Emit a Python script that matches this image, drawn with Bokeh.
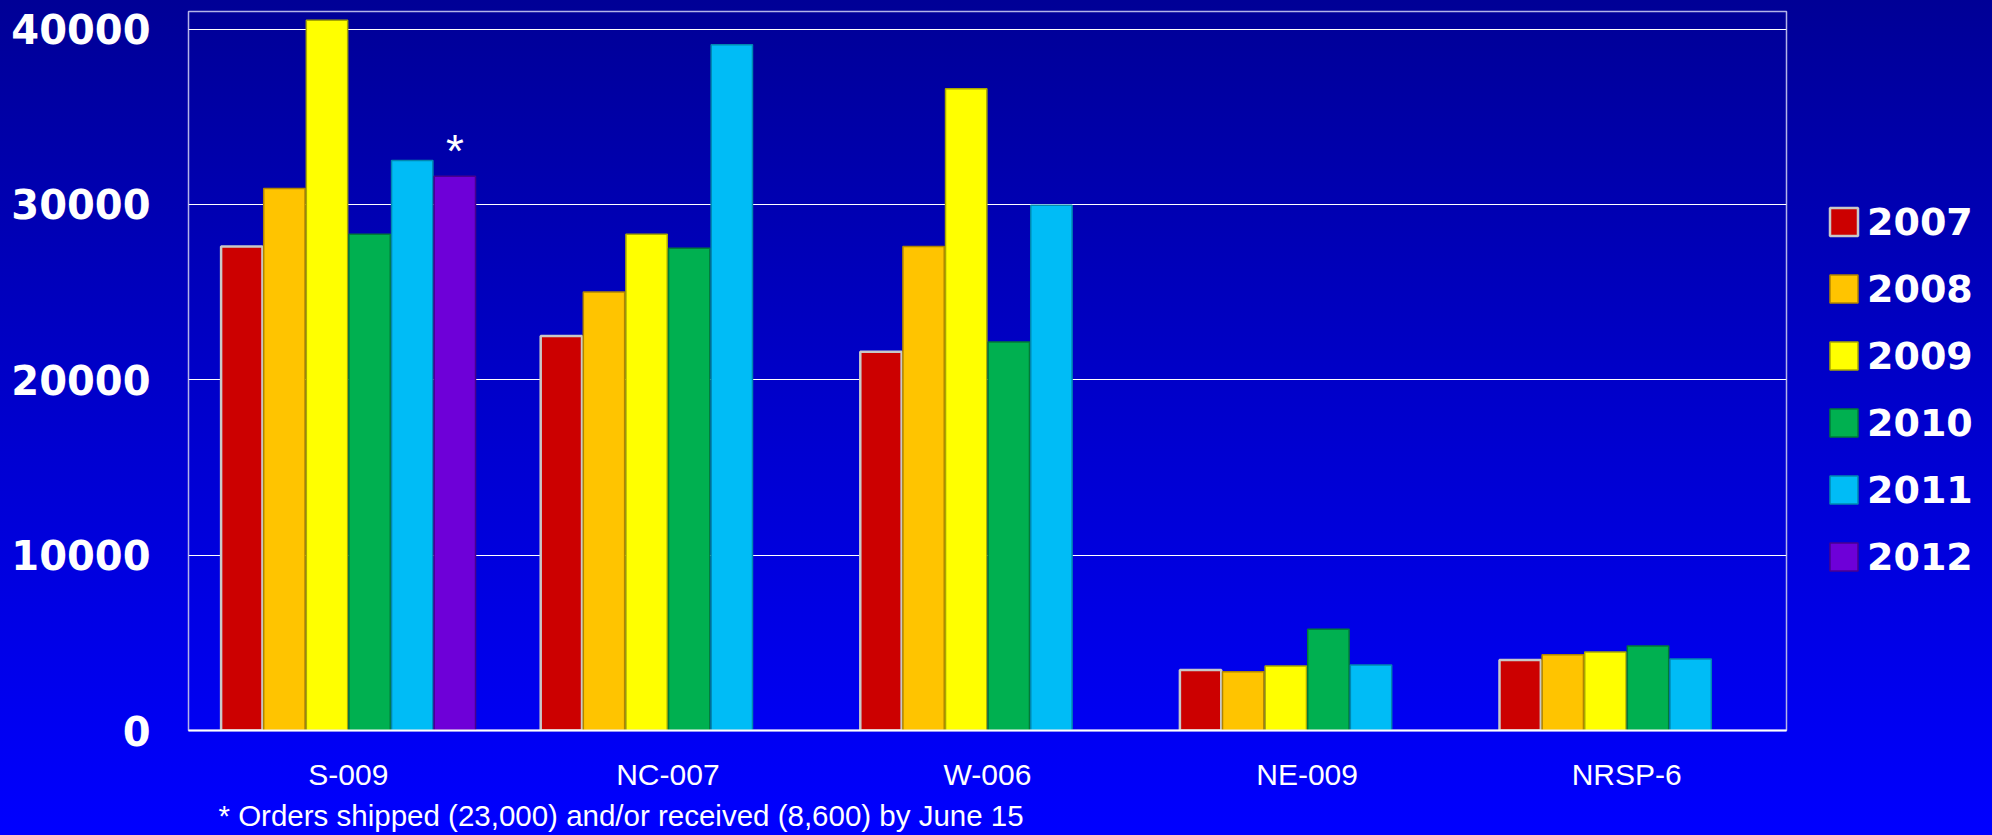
from bokeh.plotting import figure
from bokeh.layouts import row
from bokeh.models import (ColumnDataSource, FactorRange, Range1d, FixedTicker,
                          Legend, LegendItem, Title)
from bokeh.transform import dodge
from bokeh.core.properties import value
from bokeh.embed import file_html
from bokeh.resources import INLINE

# ---------------- data ----------------
categories = ["S-009", "NC-007", "W-006", "NE-009", "NRSP-6"]
years = ["2007", "2008", "2009", "2010", "2011", "2012"]
v2007 = [27600, 22500, 21600, 3450, 4020]
v2008 = [30900, 25000, 27600, 3350, 4320]
v2009 = [40500, 28300, 36600, 3680, 4480]
v2010 = [28300, 27500, 22150, 5780, 4820]
v2011 = [32500, 39100, 29950, 3740, 4080]
cat2012 = ["S-009"]
v2012 = [31600]
y_ticks = [0, 10000, 20000, 30000, 40000]
note_mark = "*"
footnote = "* Orders shipped (23,000) and/or received (8,600) by June 15"

# ---------------- style ----------------
fills = ["#CC0000", "#FFC400", "#FFFF00", "#00B050", "#00BCF6", "#6E00D8"]
edges = ["#C8C8C8", "#B08400", "#A8A800", "#007A38", "#0088B0", "#48008E"]
edge_w = [2.5, 1.5, 1.5, 1.5, 1.5, 1.5]
bar_w = 1 / 7.5
offsets = [(i - 2.5) * bar_w for i in range(6)]
gradient = {"background": "linear-gradient(to bottom, #000096 0%, #0000C8 45%, #0000FF 100%)"}

H = 835
W_MAIN, W_LEG = 1788, 204

p = figure(x_range=FactorRange(*categories, range_padding=0),
           y_range=Range1d(0, 41000),
           width=W_MAIN, height=H, output_backend="svg", toolbar_location=None,
           min_border_left=188, min_border_right=2,
           min_border_top=11, min_border_bottom=101, styles=gradient)
p.background_fill_alpha = 0
p.border_fill_alpha = 0
p.outline_line_color = "#B4B4E8"
p.outline_line_width = 1.5

src = ColumnDataSource(dict(cat=categories, y2007=v2007, y2008=v2008, y2009=v2009,
                            y2010=v2010, y2011=v2011))
src12 = ColumnDataSource(dict(cat=cat2012, y2012=v2012))

for i, yr in enumerate(years):
    s = src12 if yr == "2012" else src
    p.vbar(x=dodge("cat", offsets[i], range=p.x_range), top="y" + yr, bottom=0,
           width=bar_w * 0.97, source=s, fill_color=fills[i],
           line_color=edges[i], line_width=edge_w[i])

# asterisk above the 2012 bar
p.text(x=dodge("cat", offsets[5], range=p.x_range), y="y2012", text=value(note_mark),
       source=src12, text_color="white", text_font=value("Liberation Sans"),
       text_font_size="46px", text_align="center", text_baseline="alphabetic",
       y_offset=-25)

# axes
p.yaxis.ticker = FixedTicker(ticks=y_ticks)
p.yaxis.axis_line_color = None
p.yaxis.major_tick_line_color = None
p.yaxis.minor_tick_line_color = None
p.yaxis.major_tick_out = 0
p.yaxis.major_label_standoff = 38
p.yaxis.major_label_text_color = "white"
p.yaxis.major_label_text_font = "DejaVu Sans"
p.yaxis.major_label_text_font_style = "bold"
p.yaxis.major_label_text_font_size = "40px"

p.xaxis.axis_line_color = "white"
p.xaxis.axis_line_width = 2
p.xaxis.major_tick_line_color = None
p.xaxis.minor_tick_line_color = None
p.xaxis.major_tick_out = 0
p.xaxis.major_label_standoff = 27
p.xaxis.major_label_text_color = "white"
p.xaxis.major_label_text_font = "Liberation Sans"
p.xaxis.major_label_text_font_size = "30px"

p.xgrid.grid_line_color = None
p.ygrid.grid_line_color = "white"
p.ygrid.grid_line_width = 1.2
p.ygrid.ticker = FixedTicker(ticks=y_ticks)

# footnote (below the category axis)
p.add_layout(Title(text=footnote, align="left", offset=30, standoff=7,
                   text_color="white", text_font="Liberation Sans",
                   text_font_style="normal", text_font_size="29.5px"), "below")

# legend panel at the right (swatch renderers carry no drawable bar)
q = figure(width=W_LEG, height=H, output_backend="svg", toolbar_location=None,
           x_range=Range1d(0, 1), y_range=Range1d(0, 1),
           x_axis_location=None, y_axis_location=None,
           min_border_left=0, min_border_right=0, min_border_top=0, min_border_bottom=0,
           styles=gradient)
q.background_fill_alpha = 0
q.border_fill_alpha = 0
q.outline_line_color = None
q.xgrid.visible = False
q.ygrid.visible = False

nan = float("nan")
items = []
for i, yr in enumerate(years):
    r = q.vbar(x=[nan], top=[nan], width=1, fill_color=fills[i], line_color=edges[i],
               line_width=edge_w[i])
    items.append(LegendItem(label=yr, renderers=[r]))

legend = Legend(items=items, location=(38, 140), orientation="vertical",
                glyph_width=35, glyph_height=35, label_height=67, spacing=0,
                padding=0, margin=0, label_standoff=6,
                label_text_color="white", label_text_font="DejaVu Sans",
                label_text_font_style="bold", label_text_font_size="38px",
                background_fill_alpha=0, border_line_color=None)
q.add_layout(legend)

layout = row(p, q, spacing=0)
open("out.html", "w").write(file_html(layout, INLINE))
